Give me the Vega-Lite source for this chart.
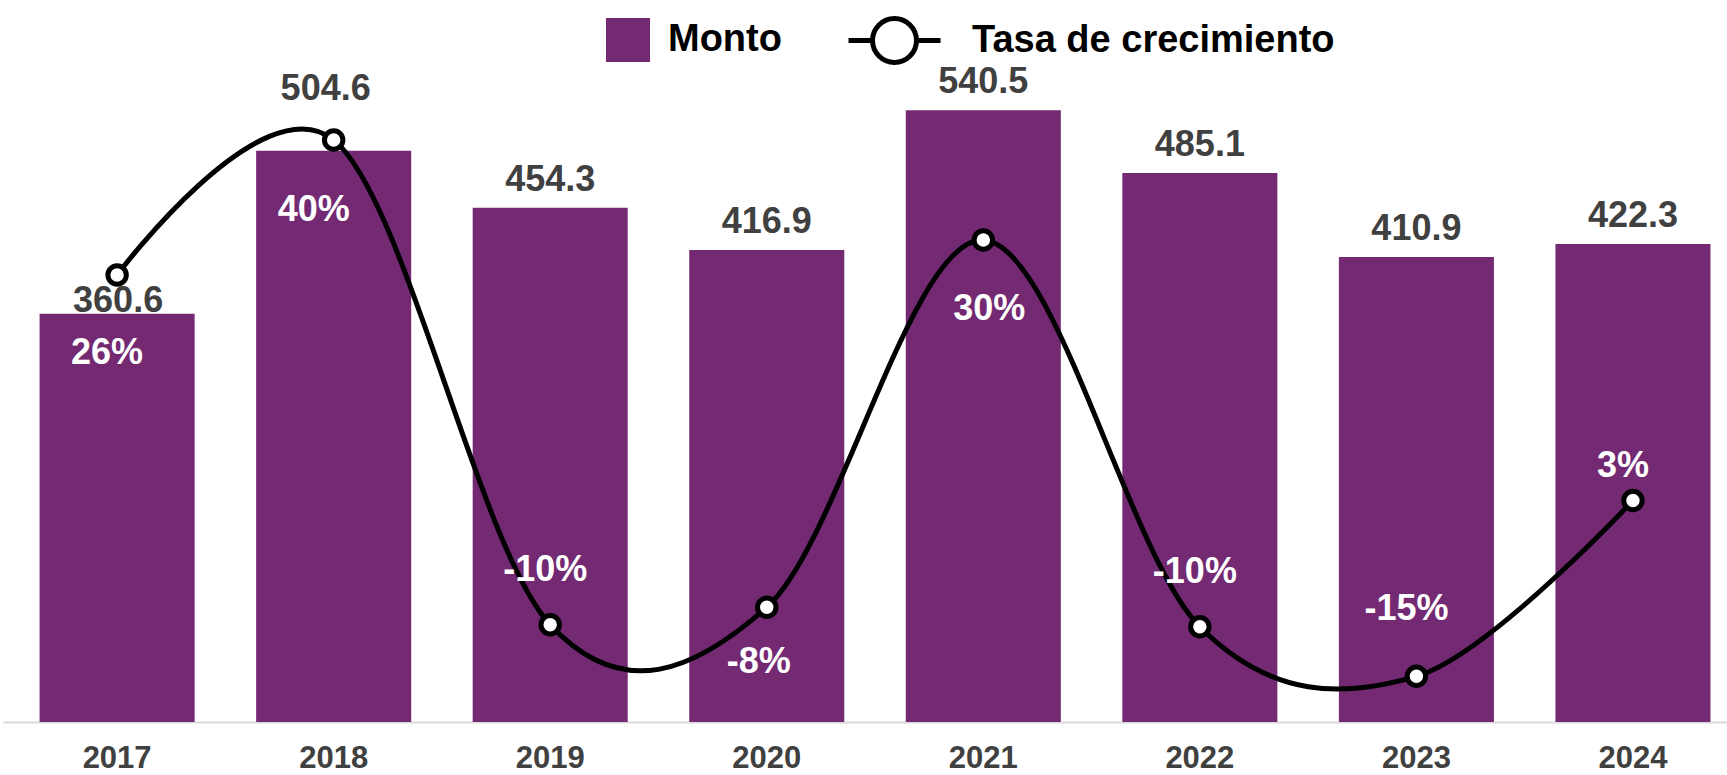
{
  "$schema": "https://vega.github.io/schema/vega-lite/v6.json",
  "width": 1724,
  "height": 647,
  "autosize": "none",
  "padding": {"left": 3, "top": 75, "right": 0, "bottom": 53},
  "background": "white",
  "config": {"font": "Liberation Sans", "view": {"stroke": null}},
  "data": {"values": [
    {"Año": "2017", "Monto": 360.6, "Tasa": 0.26},
    {"Año": "2018", "Monto": 504.6, "Tasa": 0.399},
    {"Año": "2019", "Monto": 454.3, "Tasa": -0.100},
    {"Año": "2020", "Monto": 416.9, "Tasa": -0.082},
    {"Año": "2021", "Monto": 540.5, "Tasa": 0.296},
    {"Año": "2022", "Monto": 485.1, "Tasa": -0.102},
    {"Año": "2023", "Monto": 410.9, "Tasa": -0.153},
    {"Año": "2024", "Monto": 422.3, "Tasa": 0.028}
  ]},
  "transform": [
    {"calculate": "replace(format(datum.Tasa, '.0%'), '\u2212', '-')", "as": "TasaLabel"}
  ],
  "encoding": {
    "x": {
      "field": "Año", "type": "ordinal",
      "scale": {"paddingInner": 0.284, "paddingOuter": 0.1226, "align": 0.689},
      "axis": {
        "title": null, "labelAngle": 0, "labelFontSize": 31, "labelFontWeight": "bold",
        "labelColor": "#404040", "ticks": false, "tickSize": 0, "labelPadding": 45,
        "labelBaseline": "alphabetic", "domainColor": "#D9D9D9", "domainWidth": 2, "grid": false
      }
    }
  },
  "layer": [
    {
      "encoding": {
        "y": {"field": "Monto", "type": "quantitative", "scale": {"domain": [0, 571.6], "nice": false, "zero": false}, "axis": null}
      },
      "layer": [
        {
          "mark": {"type": "bar"},
          "encoding": {
            "fill": {
              "datum": "Monto",
              "scale": {"domain": ["Monto"], "range": ["#732A73"]},
              "legend": {
                "title": null, "orient": "none", "legendX": 603, "legendY": -57, "padding": 0,
                "symbolType": "square", "symbolSize": 1936, "symbolStrokeWidth": 0,
                "labelFontSize": 38, "labelFontWeight": "bold", "labelColor": "#000000", "labelOffset": 18, "labelLimit": 1000
              }
            }
          }
        },
        {
          "transform": [{"filter": {"field": "Año", "oneOf": ["2019", "2020", "2021", "2022", "2023", "2024"]}}],
          "mark": {"type": "text", "fontSize": 36, "fontWeight": "bold", "color": "#404040", "baseline": "alphabetic", "dy": -17},
          "encoding": {"text": {"field": "Monto", "type": "quantitative", "format": ".1f"}}
        },
        {
          "transform": [{"filter": {"field": "Año", "equal": "2017"}}],
          "mark": {"type": "text", "fontSize": 36, "fontWeight": "bold", "color": "#404040", "baseline": "alphabetic", "dy": -2, "dx": 1},
          "encoding": {"text": {"field": "Monto", "type": "quantitative", "format": ".1f"}}
        },
        {
          "transform": [{"filter": {"field": "Año", "equal": "2018"}}],
          "mark": {"type": "text", "fontSize": 36, "fontWeight": "bold", "color": "#404040", "baseline": "alphabetic", "dy": -51, "dx": -8},
          "encoding": {"text": {"field": "Monto", "type": "quantitative", "format": ".1f"}}
        }
      ]
    },
    {
      "encoding": {
        "y": {"field": "Tasa", "type": "quantitative", "scale": {"domain": [-0.2, 0.4658], "nice": false, "zero": false}, "axis": null}
      },
      "layer": [
        {
          "mark": {"type": "line", "interpolate": "cardinal", "strokeWidth": 5},
          "encoding": {
            "stroke": {
              "datum": "Tasa de crecimiento",
              "scale": {"domain": ["Tasa de crecimiento"], "range": ["#000000"]},
              "legend": {
                "title": null, "orient": "none", "legendX": 843, "legendY": -83, "padding": 0,
                "symbolType": "M-1,0H-0.478M0.478,0H1M0.478,0A0.478,0.478,0,1,1,-0.478,0A0.478,0.478,0,1,1,0.478,0Z",
                "symbolSize": 8464, "symbolStrokeWidth": 5, "symbolFillColor": "#FFFFFF", "symbolStrokeColor": "#000000",
                "labelFontSize": 38, "labelFontWeight": "bold", "labelColor": "#000000", "labelOffset": 29, "labelLimit": 1000
              }
            }
          }
        },
        {
          "mark": {"type": "point", "filled": true, "fill": "#FFFFFF", "stroke": "#000000", "strokeWidth": 5, "size": 340, "opacity": 1}
        },
        {
          "transform": [{"filter": {"field": "Año", "equal": "2017"}}],
          "mark": {"type": "text", "fontSize": 36, "fontWeight": "bold", "color": "#FFFFFF", "baseline": "alphabetic", "dx": -10, "dy": 89},
          "encoding": {"text": {"field": "TasaLabel"}}
        },
        {
          "transform": [{"filter": {"field": "Año", "equal": "2018"}}],
          "mark": {"type": "text", "fontSize": 36, "fontWeight": "bold", "color": "#FFFFFF", "baseline": "alphabetic", "dx": -20, "dy": 81},
          "encoding": {"text": {"field": "TasaLabel"}}
        },
        {
          "transform": [{"filter": {"field": "Año", "equal": "2021"}}],
          "mark": {"type": "text", "fontSize": 36, "fontWeight": "bold", "color": "#FFFFFF", "baseline": "alphabetic", "dx": 6, "dy": 80},
          "encoding": {"text": {"field": "TasaLabel"}}
        },
        {
          "transform": [{"filter": {"field": "Año", "oneOf": ["2019", "2022"]}}],
          "mark": {"type": "text", "fontSize": 36, "fontWeight": "bold", "color": "#FFFFFF", "baseline": "alphabetic", "dx": -5, "dy": -44},
          "encoding": {"text": {"field": "TasaLabel"}}
        },
        {
          "transform": [{"filter": {"field": "Año", "equal": "2020"}}],
          "mark": {"type": "text", "fontSize": 36, "fontWeight": "bold", "color": "#FFFFFF", "baseline": "alphabetic", "dx": -8, "dy": 66},
          "encoding": {"text": {"field": "TasaLabel"}}
        },
        {
          "transform": [{"filter": {"field": "Año", "equal": "2023"}}],
          "mark": {"type": "text", "fontSize": 36, "fontWeight": "bold", "color": "#FFFFFF", "baseline": "alphabetic", "dx": -10, "dy": -56},
          "encoding": {"text": {"field": "TasaLabel"}}
        },
        {
          "transform": [{"filter": {"field": "Año", "equal": "2024"}}],
          "mark": {"type": "text", "fontSize": 36, "fontWeight": "bold", "color": "#FFFFFF", "baseline": "alphabetic", "dx": -10, "dy": -23},
          "encoding": {"text": {"field": "TasaLabel"}}
        }
      ]
    }
  ],
  "resolve": {"scale": {"y": "independent"}}
}
